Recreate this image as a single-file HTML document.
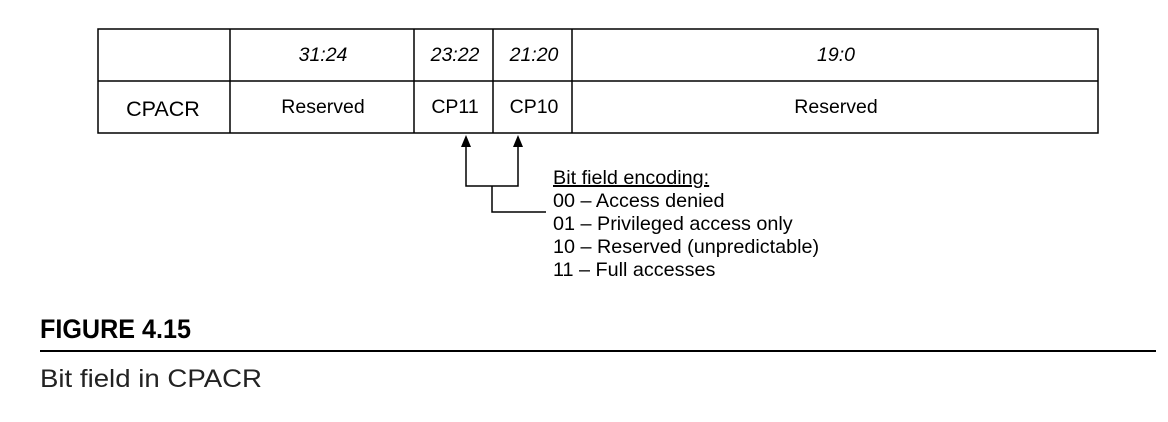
<!DOCTYPE html>
<html><head><style>
body{margin:0;width:1168px;height:422px;background:#fff;overflow:hidden;font-family:"Liberation Sans",sans-serif;}
</style></head><body>
<svg width="1168" height="422" xmlns="http://www.w3.org/2000/svg" style="position:absolute;left:0;top:0">
<g stroke="#000" stroke-width="1.5" fill="none">
<rect x="98" y="29" width="1000" height="104"/>
<line x1="98" y1="81" x2="1098" y2="81"/>
<line x1="230" y1="29" x2="230" y2="133"/>
<line x1="414" y1="29" x2="414" y2="133"/>
<line x1="493" y1="29" x2="493" y2="133"/>
<line x1="572" y1="29" x2="572" y2="133"/>
<polyline points="466,142 466,186 518,186 518,142"/>
<polyline points="492,186 492,212 546,212"/>
</g>
<polygon points="466,135 461,147 471,147" fill="#000"/>
<polygon points="518,135 513,147 523,147" fill="#000"/>
<g font-family="Liberation Sans,sans-serif" font-size="19.5" text-anchor="middle" fill="#000">
<text x="323" y="61" font-style="italic">31:24</text>
<text x="455" y="61" font-style="italic">23:22</text>
<text x="534" y="61" font-style="italic">21:20</text>
<text x="836" y="61" font-style="italic">19:0</text>
<text x="163" y="116" font-size="21.5">CPACR</text>
<text x="323" y="113">Reserved</text>
<text x="455" y="113">CP11</text>
<text x="534" y="113">CP10</text>
<text x="836" y="113">Reserved</text>
</g>
<g font-family="Liberation Sans,sans-serif" font-size="19.8" fill="#000">
<text x="553" y="184" text-decoration="underline">Bit field encoding:</text>
<text x="553" y="207">00 – Access denied</text>
<text x="553" y="230">01 – Privileged access only</text>
<text x="553" y="253">10 – Reserved (unpredictable)</text>
<text x="553" y="276">11 – Full accesses</text>
</g>
<text x="40" y="338" font-family="Liberation Sans Narrow,Liberation Sans,sans-serif" font-weight="bold" font-size="27" fill="#000" textLength="151" lengthAdjust="spacingAndGlyphs">FIGURE 4.15</text>
<line x1="40" y1="351" x2="1156" y2="351" stroke="#000" stroke-width="2"/>
<text x="40" y="387" font-family="Liberation Sans,sans-serif" font-size="25" fill="#222" textLength="222" lengthAdjust="spacingAndGlyphs">Bit field in CPACR</text>
</svg>
</body></html>
